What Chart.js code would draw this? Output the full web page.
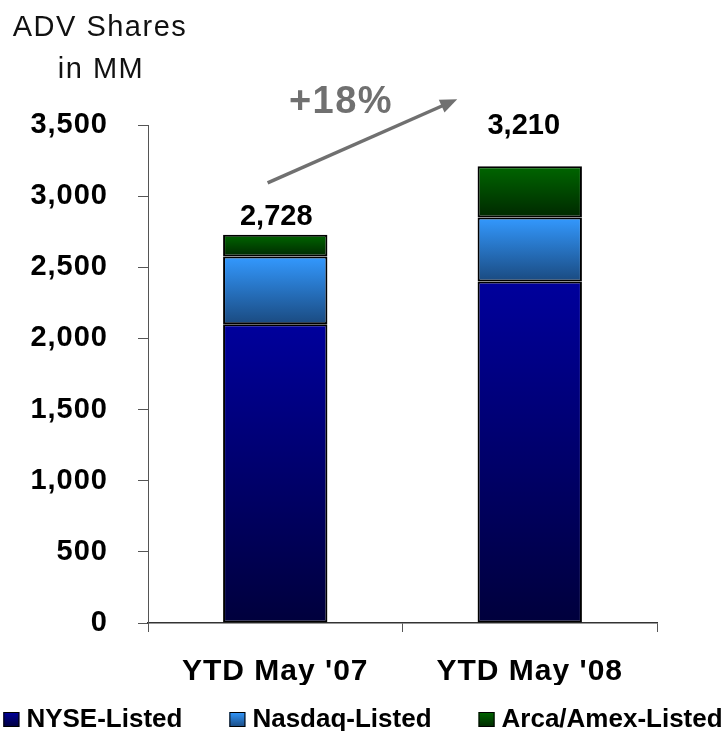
<!DOCTYPE html>
<html>
<head>
<meta charset="utf-8">
<script src="https://cdn.jsdelivr.net/npm/chart.js@4/dist/chart.umd.min.js"></script>
<style>
  body { margin: 0; background: #fff; }
  #advChart { display: block; }
</style>
</head>
<body>
<canvas id="advChart" width="726" height="731"></canvas>
<script>
// data
const categories = ["YTD May '07", "YTD May '08"];
const nyseValues = [2100, 2400];
const nasdaqValues = [475, 450];
const arcaValues = [153, 360];
const yTicks = [0, 500, 1000, 1500, 2000, 2500, 3000, 3500];
const growthLabel = "+18%";

const FONT = "'Liberation Sans', Arial, sans-serif";

// top / bottom colour of each segment gradient
const gradients = [
    ["#00009c", "#00003c"],
    ["#3399ff", "#1a4a80"],
    ["#006600", "#002800"]
];

function totals() {
    return categories.map((c, i) => nyseValues[i] + nasdaqValues[i] + arcaValues[i]);
}

// each stacked piece gets its own vertical gradient
function segmentFill(c) {
    const chart = c.chart;
    const colors = gradients[c.datasetIndex];
    const y = chart.scales.y;
    if (!chart.chartArea || !y || c.type !== "data") return colors[1];
    let start = 0;
    for (let d = 0; d < c.datasetIndex; d++) start += chart.data.datasets[d].data[c.dataIndex];
    const end = start + chart.data.datasets[c.datasetIndex].data[c.dataIndex];
    const g = chart.ctx.createLinearGradient(0, y.getPixelForValue(end), 0, y.getPixelForValue(start));
    g.addColorStop(0, colors[0]);
    g.addColorStop(1, colors[1]);
    return g;
}

const spacing = {
    id: "spacing",
    beforeDraw(chart) { chart.ctx.letterSpacing = "1px"; }
};

const annotations = {
    id: "annotations",
    afterDraw(chart) {
        const ctx = chart.ctx;
        const x = chart.scales.x;
        const y = chart.scales.y;
        ctx.save();

        // axis title
        ctx.fillStyle = "#111";
        ctx.font = "29px " + FONT;
        ctx.letterSpacing = "1.5px";
        ctx.textAlign = "center";
        ctx.textBaseline = "alphabetic";
        ctx.fillText("ADV Shares", 100, 36);
        ctx.fillText("in MM", 101, 78);

        // totals above the bars
        const sums = totals();
        const lift = [10, 32];
        const shift = [1, -6];
        ctx.letterSpacing = "0px";
        ctx.font = "bold 29px " + FONT;
        ctx.fillStyle = "#000";
        sums.forEach((s, i) => {
            ctx.fillText(s.toLocaleString("en-US"), x.getPixelForValue(i) + shift[i], y.getPixelForValue(s) - lift[i]);
        });

        // growth arrow
        const x0 = x.getPixelForValue(-0.03), y0 = y.getPixelForValue(sums[0]) - 52;
        const x1 = x.getPixelForValue(0.715), y1 = y.getPixelForValue(sums[1]) - 67;
        const ang = Math.atan2(y1 - y0, x1 - x0);
        const head = 17;
        ctx.strokeStyle = "#707070";
        ctx.fillStyle = "#707070";
        ctx.lineWidth = 3.5;
        ctx.beginPath();
        ctx.moveTo(x0, y0);
        ctx.lineTo(x1 - head * 0.8 * Math.cos(ang), y1 - head * 0.8 * Math.sin(ang));
        ctx.stroke();
        ctx.beginPath();
        ctx.moveTo(x1, y1);
        ctx.lineTo(x1 - head * Math.cos(ang) + 7 * Math.sin(ang), y1 - head * Math.sin(ang) - 7 * Math.cos(ang));
        ctx.lineTo(x1 - head * Math.cos(ang) - 7 * Math.sin(ang), y1 - head * Math.sin(ang) + 7 * Math.cos(ang));
        ctx.closePath();
        ctx.fill();

        ctx.font = "bold 38px " + FONT;
        ctx.letterSpacing = "1.5px";
        ctx.fillText(growthLabel, 341, 113);

        // legend along the bottom
        ctx.letterSpacing = "0px";
        ctx.font = "bold 26px " + FONT;
        ctx.textAlign = "left";
        const box = 16, gap = 7, itemGap = 47, baseY = 727;
        const items = chart.data.datasets.map((ds, i) => ({ text: ds.label, colors: gradients[i], w: ctx.measureText(ds.label).width }));
        const total = items.reduce((a, it) => a + box + gap + it.w, 0) + itemGap * (items.length - 1);
        let lx = (chart.width - total) / 2;
        items.forEach(it => {
            const g = ctx.createLinearGradient(0, baseY - 15, 0, baseY);
            g.addColorStop(0, it.colors[0]);
            g.addColorStop(1, it.colors[1]);
            ctx.fillStyle = g;
            ctx.fillRect(lx, baseY - 15, box, 15);
            ctx.strokeStyle = "#000";
            ctx.lineWidth = 1;
            ctx.strokeRect(lx + 0.5, baseY - 14.5, box - 1, 14);
            ctx.fillStyle = "#000";
            ctx.fillText(it.text, lx + box + gap, baseY);
            lx += box + gap + it.w + itemGap;
        });
        ctx.restore();
    }
};

const barStyle = {
    backgroundColor: segmentFill,
    borderColor: "#000",
    borderWidth: 2,
    borderSkipped: false,
    barPercentage: 0.82,
    categoryPercentage: 0.5
};

const advChart = new Chart("advChart", {
    type: "bar",
    data: {
        labels: categories,
        datasets: [
            Object.assign({ label: "NYSE-Listed", data: nyseValues }, barStyle),
            Object.assign({ label: "Nasdaq-Listed", data: nasdaqValues }, barStyle),
            Object.assign({ label: "Arca/Amex-Listed", data: arcaValues }, barStyle)
        ]
    },
    options: {
        responsive: false,
        animation: false,
        devicePixelRatio: 1,
        layout: { padding: { top: 125, right: 69, left: 0, bottom: 46 } },
        plugins: {
            legend: { display: false },
            tooltip: { enabled: false }
        },
        scales: {
            x: {
                stacked: true,
                grid: { drawOnChartArea: false, color: "#555", tickLength: 9 },
                border: { color: "#333", width: 1.5 },
                ticks: { color: "#000", padding: 22, font: { family: FONT, size: 30, weight: "bold" } },
                afterFit(scale) { scale.height = 62; }
            },
            y: {
                stacked: true,
                min: 0,
                max: 3500,
                afterBuildTicks(scale) { scale.ticks = yTicks.map(v => ({ value: v })); },
                grid: { drawOnChartArea: false, color: "#555", tickLength: 10 },
                border: { color: "#555", width: 1 },
                ticks: {
                    color: "#000",
                    padding: 30,
                    font: { family: FONT, size: 29, weight: "bold" },
                    callback: v => v.toLocaleString("en-US")
                },
                afterFit(scale) { scale.width = 148; }
            }
        }
    },
    plugins: [spacing, annotations]
});
</script>
</body>
</html>
